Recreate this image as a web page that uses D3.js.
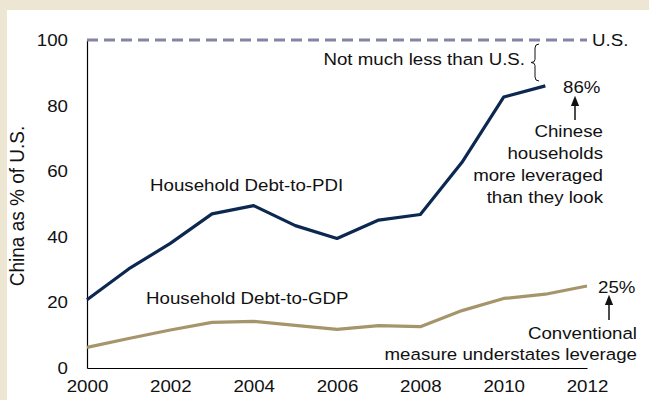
<!DOCTYPE html>
<html>
<head>
<meta charset="utf-8">
<script src="https://cdn.jsdelivr.net/npm/d3@7/dist/d3.min.js"></script>
<style>
  html, body { margin: 0; padding: 0; background: #ede6d2; }
  svg { display: block; }
  text { font-family: "Liberation Sans", Arial, sans-serif; fill: #111; }
</style>
</head>
<body>
<script>
const years = [2000, 2001, 2002, 2003, 2004, 2005, 2006, 2007, 2008, 2009, 2010, 2011, 2012];
const debtToPDI = [20.8, 30.2, 38.0, 47.0, 49.5, 43.4, 39.5, 45.1, 46.8, 62.7, 82.6, 86.0, null];
const debtToGDP = [6.3, 9.0, 11.6, 13.9, 14.2, 13.0, 11.8, 12.9, 12.6, 17.5, 21.2, 22.5, 25.0];
const usLevel = 100;
const yTicks = [0, 20, 40, 60, 80, 100];
const xTicks = [2000, 2002, 2004, 2006, 2008, 2010, 2012];

const W = 649, H = 400;
const svg = d3.select("body").append("svg").attr("width", W).attr("height", H);

svg.append("rect").attr("x", 0).attr("y", 0).attr("width", W).attr("height", H).attr("fill", "#ede6d2");
svg.append("rect").attr("x", 7).attr("y", 10).attr("width", W - 7).attr("height", H - 10).attr("fill", "#ffffff");

const x = d3.scaleLinear().domain([2000, 2012]).range([87, 587]);
const y = d3.scaleLinear().domain([0, 100]).range([368, 40]);

const FS = 17, SX = 1.1;

// axes
const yAxis = d3.axisLeft(y).tickValues(yTicks).tickSize(0).tickPadding(19 / SX).tickFormat(d3.format("d"));
const gy = svg.append("g").attr("transform", `translate(${x(2000)},0)`).call(yAxis);
gy.select(".domain").attr("stroke", "#000").attr("stroke-width", 1.2);
gy.selectAll("text").attr("font-size", FS).attr("font-family", "Liberation Sans, Arial, sans-serif")
  .attr("fill", "#111").attr("transform", `scale(${SX},1)`);

const xAxis = d3.axisBottom(x).tickValues(xTicks).tickSize(0).tickPadding(12).tickFormat(d3.format("d"));
const gx = svg.append("g").attr("transform", `translate(0,${y(0)})`).call(xAxis);
gx.select(".domain").attr("stroke", "#000").attr("stroke-width", 1.2);
gx.selectAll("text").attr("font-size", FS).attr("font-family", "Liberation Sans, Arial, sans-serif")
  .attr("fill", "#111").attr("transform", `scale(${SX},1)`);

// U.S. reference line
svg.append("line")
  .attr("x1", x(2000)).attr("x2", x(2012)).attr("y1", y(usLevel)).attr("y2", y(usLevel))
  .attr("stroke", "#8484a4").attr("stroke-width", 3).attr("stroke-dasharray", "11,6");

// series
const line = d3.line().defined(d => d[1] != null).x(d => x(d[0])).y(d => y(d[1]));
svg.append("path").datum(years.map((yr, i) => [yr, debtToGDP[i]]))
  .attr("d", line).attr("fill", "none").attr("stroke", "#a6956b").attr("stroke-width", 3.2).attr("stroke-linejoin", "round");
svg.append("path").datum(years.map((yr, i) => [yr, debtToPDI[i]]))
  .attr("d", line).attr("fill", "none").attr("stroke", "#0c2850").attr("stroke-width", 3.2).attr("stroke-linejoin", "round");

function label(px, py, str, anchor) {
  return svg.append("text").attr("transform", `translate(${px},${py}) scale(${SX},1)`)
    .attr("text-anchor", anchor || "start").attr("font-size", FS).text(str);
}

// y title
svg.append("text").attr("transform", `translate(24,${(y(100) + y(0)) / 2 + 2}) rotate(-90) scale(1,${SX})`)
  .attr("text-anchor", "middle").attr("font-size", 19).text("China as % of U.S.");

// series labels
label(150, 191, "Household Debt-to-PDI");
label(146, 304, "Household Debt-to-GDP");

// US annotations
label(592, 46, "U.S.");
label(525, 65, "Not much less than U.S.", "end");

// brace
const bx = 535, by0 = 44, by1 = 81, bm = (by0 + by1) / 2;
const bp = d3.path();
bp.moveTo(bx + 4, by0);
bp.quadraticCurveTo(bx, by0, bx, by0 + 4);
bp.lineTo(bx, bm - 3);
bp.quadraticCurveTo(bx, bm, bx - 4, bm);
bp.quadraticCurveTo(bx, bm, bx, bm + 3);
bp.lineTo(bx, by1 - 4);
bp.quadraticCurveTo(bx, by1, bx + 4, by1);
svg.append("path").attr("d", bp.toString()).attr("fill", "none").attr("stroke", "#111").attr("stroke-width", 1);

// arrow marker
svg.append("defs").append("marker").attr("id", "ah").attr("viewBox", "0 0 10 10")
  .attr("refX", 5).attr("refY", 5).attr("markerWidth", 7).attr("markerHeight", 7)
  .attr("orient", "auto").append("path").attr("d", "M0,1 L10,5 L0,9 Z").attr("fill", "#111");

label(563, 93, "86%");
svg.append("line").attr("x1", 575).attr("x2", 575).attr("y1", 120).attr("y2", 101)
  .attr("stroke", "#111").attr("stroke-width", 1.5).attr("marker-end", "url(#ah)");
["Chinese", "households", "more leveraged", "than they look"].forEach((t, i) => label(603, 137 + i * 22, t, "end"));

label(598, 293, "25%");
svg.append("line").attr("x1", 609).attr("x2", 609).attr("y1", 320).attr("y2", 300)
  .attr("stroke", "#111").attr("stroke-width", 1.5).attr("marker-end", "url(#ah)");
label(637, 339, "Conventional", "end");
label(637, 360, "measure understates leverage", "end");
</script>
</body>
</html>
